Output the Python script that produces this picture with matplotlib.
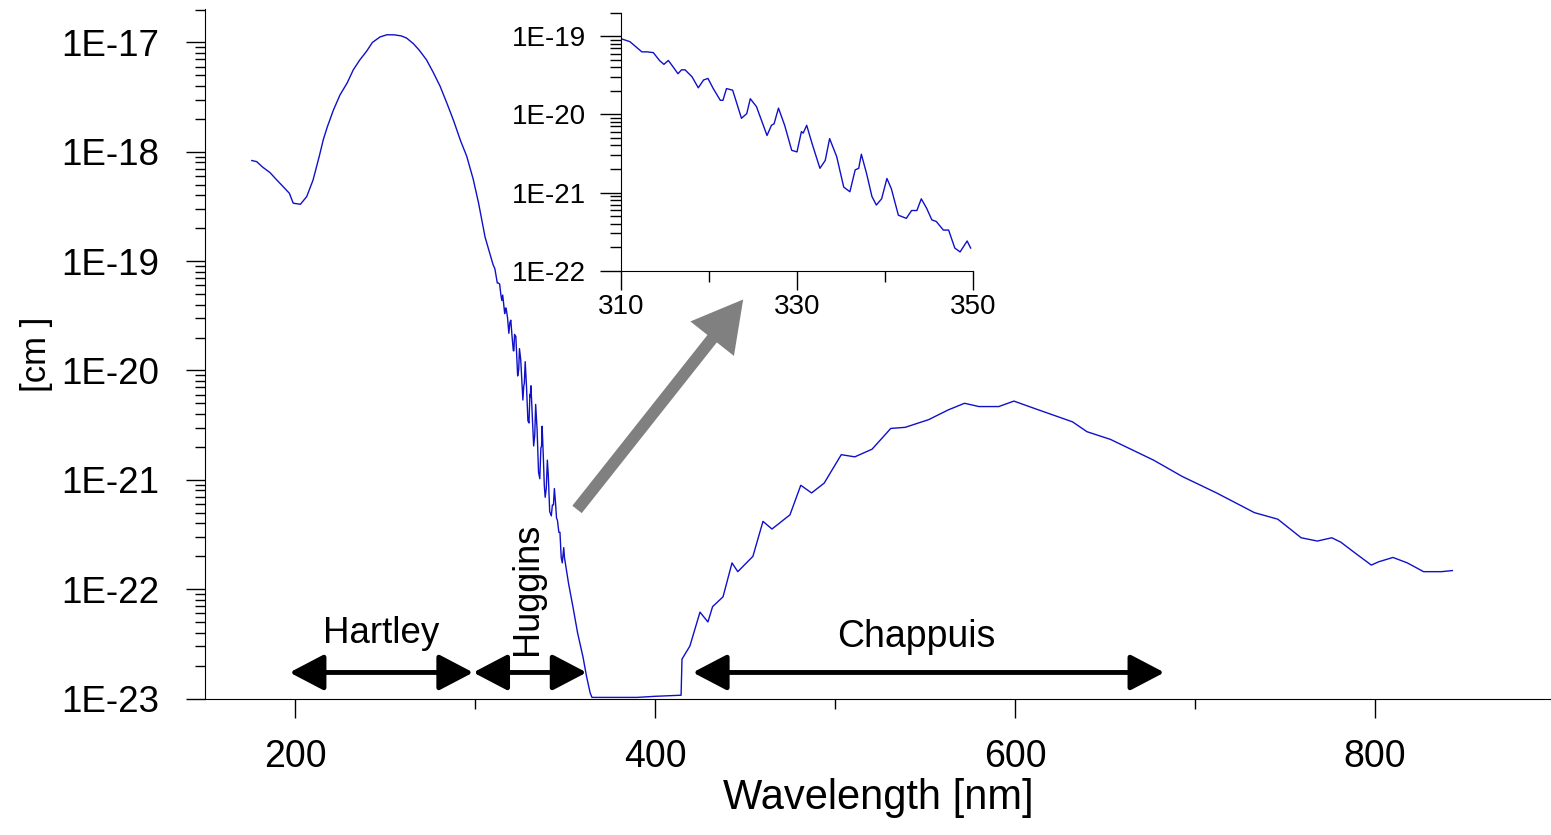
from matplotlib import pyplot as plt
from matplotlib import ticker
import numpy as np

plt.rcParams['font.family'] = ['Liberation Sans', 'DejaVu Sans']

# Ozone absorption cross section (log10 of cm^2)
hartley_wl = [176, 178.7, 182, 186.1, 190, 193.5, 196.9, 199, 203, 206.5, 210, 213.5,
              215.7, 218, 221.3, 225, 229, 232.4, 236, 239.8, 243, 247.2, 251, 255, 259,
              262, 265.7, 269, 273.1, 277, 280.6, 284.5, 288, 292, 295.4, 299, 302, 305.6]
hartley_log = [-18.08, -18.09, -18.14, -18.19, -18.26, -18.32, -18.38, -18.47, -18.48,
               -18.41, -18.26, -18.04, -17.89, -17.77, -17.62, -17.48, -17.37, -17.25,
               -17.16, -17.08, -17.00, -16.95, -16.93, -16.93, -16.94, -16.96, -17.01,
               -17.07, -17.16, -17.28, -17.40, -17.56, -17.71, -17.90, -18.04, -18.25,
               -18.47, -18.78]

# Huggins band, 310-350 nm (also shown in the inset)
huggins_wl = [310, 311.05, 312.4, 313, 313.7, 314.4, 314.9, 315.4, 315.8, 316.5, 316.9,
              317.3, 318.1, 318.8, 319.4, 319.9, 320.5, 321.3, 321.6, 322.0, 322.7, 323.7,
              324.3, 324.7, 325.4, 326.6, 327.1, 327.4, 327.9, 328.6, 329.4, 330.0, 330.5,
              330.7, 331.1, 331.7, 332.6, 333.2, 333.7, 334.5, 335.3, 336.0, 336.6, 337.0,
              337.3, 337.9, 338.5, 339.0, 339.6, 340.2, 340.7, 341.5, 342.4, 343.0, 343.6,
              344.1, 344.7, 345.3, 345.8, 346.6, 347.2, 347.9, 348.5, 348.9, 349.3, 349.7]
huggins_log = [-19.03, -19.07, -19.20, -19.20, -19.21, -19.31, -19.36, -19.31, -19.37,
               -19.48, -19.43, -19.43, -19.52, -19.66, -19.56, -19.54, -19.67, -19.82,
               -19.82, -19.67, -19.69, -20.05, -19.99, -19.80, -19.90, -20.27, -20.14,
               -20.12, -19.92, -20.14, -20.46, -20.48, -20.22, -20.24, -20.14, -20.37,
               -20.69, -20.59, -20.31, -20.54, -20.93, -20.99, -20.71, -20.69, -20.51,
               -20.76, -21.05, -21.16, -21.08, -20.82, -20.95, -21.29, -21.33, -21.23,
               -21.23, -21.08, -21.20, -21.35, -21.37, -21.48, -21.48, -21.71, -21.76,
               -21.69, -21.62, -21.71]

chappuis_wl = [352, 354.4, 357, 360, 362, 364, 365, 376, 390, 400, 414.5, 415, 419.4, 425,
               429.4, 432, 437.8, 442.8, 446, 454.4, 460, 465, 475, 481, 487, 494, 503.5,
               511, 520.6, 531, 539, 552, 563, 572, 580, 591, 599.4, 613, 632, 640, 653,
               677, 693, 712, 733, 746, 759, 768, 776, 781, 789, 798, 802, 810, 818, 827,
               837, 843]
chappuis_log = [-21.95, -22.16, -22.40, -22.62, -22.80, -22.95, -22.99, -22.99, -22.99,
                -22.98, -22.97, -22.64, -22.52, -22.21, -22.30, -22.16, -22.07, -21.76,
                -21.84, -21.70, -21.38, -21.45, -21.32, -21.05, -21.12, -21.03, -20.77,
                -20.79, -20.72, -20.53, -20.52, -20.45, -20.36, -20.30, -20.33, -20.33,
                -20.28, -20.36, -20.47, -20.56, -20.63, -20.82, -20.97, -21.12, -21.30,
                -21.36, -21.53, -21.56, -21.53, -21.57, -21.67, -21.78, -21.75, -21.71,
                -21.76, -21.84, -21.84, -21.83]

wl = np.concatenate([hartley_wl, huggins_wl, chappuis_wl])
sigma = 10.0 ** np.concatenate([hartley_log, huggins_log, chappuis_log])
hug_sigma = 10.0 ** np.array(huggins_log)

# band ranges for the black arrows (nm)
bands = [('Hartley', 197, 299), ('Huggins', 299, 362), ('Chappuis', 421, 683)]

main_decades = [1e-23, 1e-22, 1e-21, 1e-20, 1e-19, 1e-18, 1e-17]
inset_decades = [1e-22, 1e-21, 1e-20, 1e-19]

line_col = '#1010c8'
fig = plt.figure(figsize=(15.51, 8.35), dpi=100)


def decade_label(v, p):
    return '1E%d' % round(np.log10(v))


# main plot
ax = fig.add_axes([205 / 1551, (835 - 698.5) / 835, 1 - 205 / 1551, (698.5 - 9.3) / 835])
ax.plot(wl, sigma, color=line_col, lw=1.0)
ax.set_yscale('log')
ax.set_xlim(150, 897.8)
ax.set_ylim(1e-23, 2.01e-17)
for s in ['top', 'right']:
    ax.spines[s].set_visible(False)
ax.xaxis.set_major_locator(ticker.FixedLocator([200, 400, 600, 800]))
ax.xaxis.set_minor_locator(ticker.FixedLocator([300, 500, 700]))
ax.yaxis.set_major_locator(ticker.FixedLocator(main_decades))
ax.yaxis.set_minor_locator(ticker.LogLocator(base=10, subs=np.arange(2, 10), numticks=20))
ax.yaxis.set_minor_formatter(ticker.NullFormatter())
ax.yaxis.set_major_formatter(ticker.FuncFormatter(decade_label))
ax.tick_params(axis='x', which='major', length=14, width=1, labelsize=27, pad=15)
ax.tick_params(axis='x', which='minor', length=7, width=1)
ax.tick_params(axis='y', which='major', length=14, width=1, labelsize=26.5, pad=19)
ax.tick_params(axis='y', which='minor', length=7, width=1)
ax.set_xlabel('Wavelength [nm]', fontsize=30, labelpad=2)
ax.set_ylabel('[cm ]', fontsize=25)
ax.yaxis.set_label_coords(-0.113, 0.5)

# band arrows and names
arrow_y = 1.73e-23
for name, x0, x1 in bands:
    ax.annotate('', xy=(x1, arrow_y), xytext=(x0, arrow_y),
                arrowprops=dict(arrowstyle='<|-|>,head_length=21,head_width=11',
                                mutation_scale=1, lw=3.5, color='black',
                                shrinkA=0, shrinkB=0))
ax.text(248, 10 ** -22.49, 'Hartley', fontsize=26.5, ha='center', va='baseline')
ax.text(328.9, 10 ** -22.0, 'Huggins', fontsize=26, rotation=90, ha='center', va='center')
ax.text(545, 10 ** -22.53, 'Chappuis', fontsize=27, ha='center', va='baseline')

# gray arrow pointing to the inset
ax.annotate('', xy=(449, 4.46e-20), xytext=(356.7, 5.36e-22),
            arrowprops=dict(arrowstyle='simple,head_length=36,head_width=40,tail_width=8.6',
                            mutation_scale=1, color='#808080', lw=0,
                            shrinkA=0, shrinkB=0))

# inset: Huggins band
axi = fig.add_axes([620.7 / 1551, (835 - 270.7) / 835, (973.3 - 620.7) / 1551,
                    (270.7 - 12.7) / 835])
axi.plot(huggins_wl, hug_sigma, color=line_col, lw=1.0)
axi.set_yscale('log')
axi.set_xlim(310, 350)
axi.set_ylim(1e-22, 2e-19)
for s in ['top', 'right']:
    axi.spines[s].set_visible(False)
axi.xaxis.set_major_locator(ticker.FixedLocator([310, 330, 350]))
axi.xaxis.set_minor_locator(ticker.FixedLocator([320, 340]))
axi.yaxis.set_major_locator(ticker.FixedLocator(inset_decades))
axi.yaxis.set_minor_locator(ticker.LogLocator(base=10, subs=np.arange(2, 10), numticks=20))
axi.yaxis.set_minor_formatter(ticker.NullFormatter())
axi.yaxis.set_major_formatter(ticker.FuncFormatter(decade_label))
axi.tick_params(axis='x', which='major', length=14, width=1, labelsize=20, pad=3)
axi.tick_params(axis='x', which='minor', length=8, width=1)
axi.tick_params(axis='y', which='major', length=15, width=1, labelsize=20, pad=10)
axi.tick_params(axis='y', which='minor', length=8, width=1)
axi.patch.set_alpha(0)

fig.savefig('out.png', dpi=100)
